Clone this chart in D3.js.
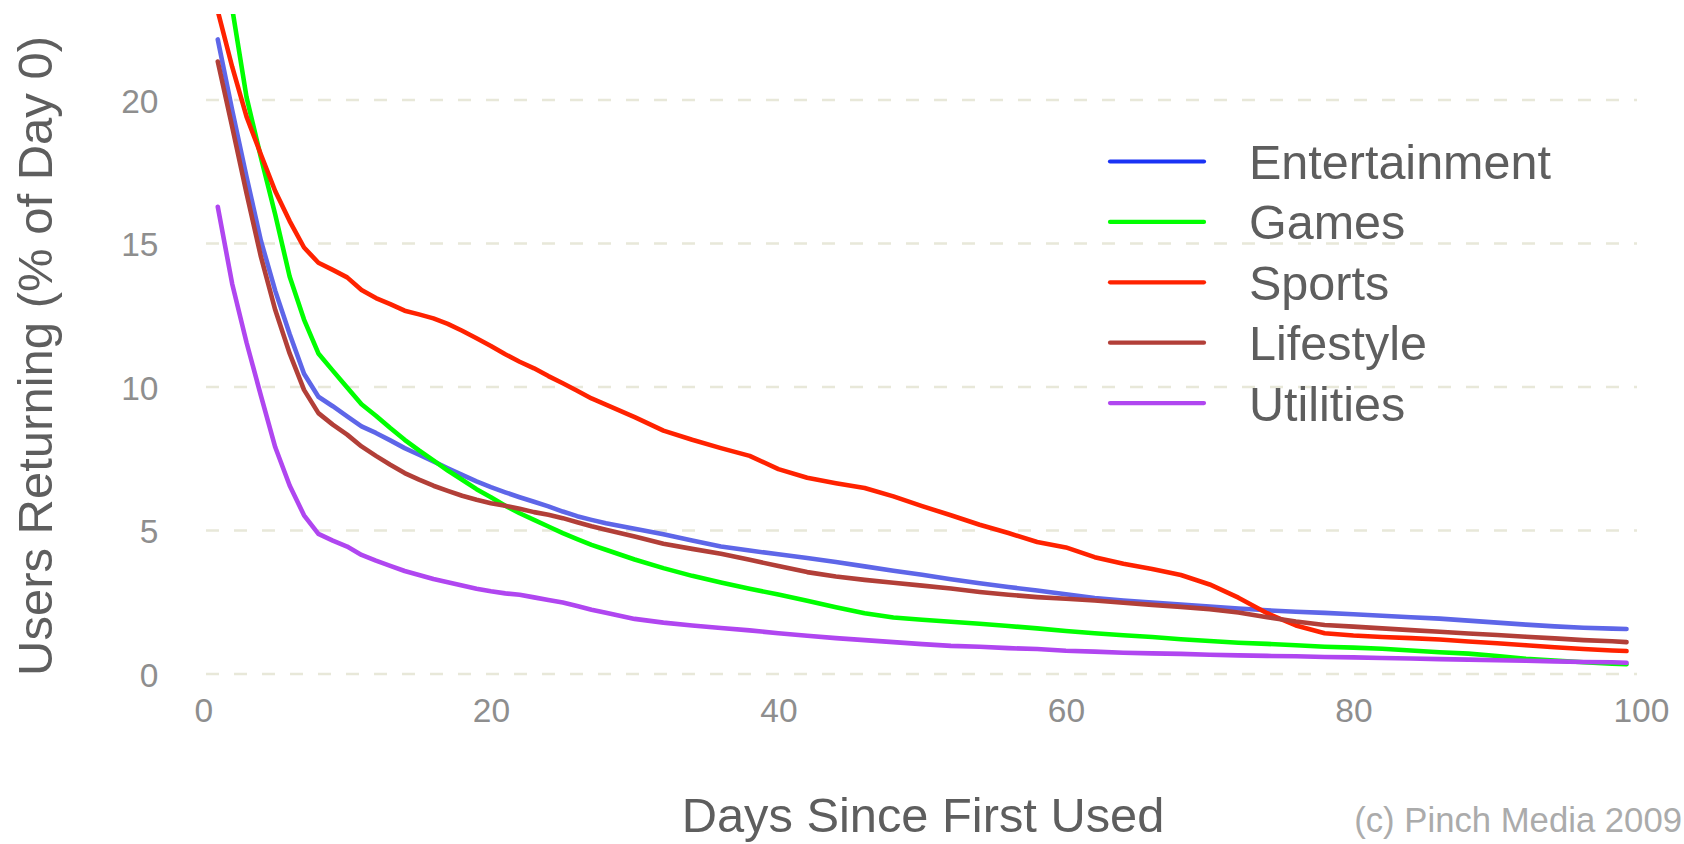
<!DOCTYPE html>
<html>
<head>
<meta charset="utf-8">
<script src="https://cdn.jsdelivr.net/npm/d3@7"></script>
<style>
  html, body { margin: 0; padding: 0; background: #ffffff; }
  svg { display: block; }
  text { font-family: "Liberation Sans", Arial, Helvetica, sans-serif; }
</style>
</head>
<body>
<svg id="chart" width="1684" height="844"></svg>
<script>
// ---- data ----
const days = [1,2,3,4,5,6,7,8,9,10,11,12,13,14,15,16,17,18,19,20,21,22,23,24,25,26,27,
  28,30,32,34,36,38,40,42,44,46,48,50,52,54,56,58,60,62,64,66,68,70,72,74,76,78,80,82,84,86,88,90,92,94,96,98,99];

const entertainment = [22.11,19.65,17.33,15.10,13.35,11.85,10.46,9.66,9.33,8.98,8.63,8.40,8.14,7.87,7.64,7.41,7.17,6.94,6.71,6.51,6.33,6.16,6.00,5.84,5.66,5.50,5.37,
  5.25,5.06,4.87,4.65,4.44,4.30,4.17,4.04,3.90,3.75,3.60,3.46,3.30,3.16,3.03,2.91,2.78,2.65,2.56,2.49,2.42,2.35,2.28,2.22,2.17,2.13,2.08,2.03,1.98,1.93,1.86,1.79,1.72,1.66,1.61,1.58,1.57];

const games = [28.0,23.2,20.1,18.0,16.0,13.85,12.35,11.17,10.57,9.98,9.40,9.00,8.57,8.16,7.79,7.44,7.09,6.77,6.44,6.16,5.86,5.60,5.37,5.14,4.91,4.70,4.50,
  4.33,3.99,3.69,3.42,3.19,2.97,2.77,2.55,2.33,2.12,1.97,1.89,1.82,1.75,1.67,1.59,1.50,1.42,1.35,1.29,1.21,1.15,1.09,1.05,1.00,0.95,0.92,0.88,0.82,0.76,0.71,0.63,0.53,0.47,0.41,0.36,0.34];

const sports = [23.1,21.16,19.42,18.1,16.82,15.78,14.86,14.33,14.08,13.82,13.38,13.10,12.89,12.66,12.53,12.39,12.20,11.96,11.70,11.43,11.14,10.88,10.65,10.38,10.13,9.87,9.60,
  9.39,8.95,8.48,8.16,7.87,7.60,7.14,6.84,6.65,6.48,6.19,5.85,5.53,5.20,4.91,4.60,4.41,4.07,3.84,3.66,3.45,3.12,2.66,2.12,1.69,1.42,1.34,1.29,1.25,1.20,1.13,1.07,1.00,0.93,0.87,0.82,0.80];

const lifestyle = [21.34,19.07,16.75,14.54,12.68,11.17,9.90,9.09,8.69,8.34,7.93,7.60,7.29,7.00,6.77,6.56,6.38,6.21,6.07,5.95,5.86,5.76,5.64,5.55,5.43,5.29,5.15,
  5.03,4.79,4.54,4.36,4.19,3.98,3.76,3.55,3.40,3.28,3.18,3.08,2.98,2.86,2.76,2.68,2.62,2.56,2.48,2.41,2.34,2.26,2.14,1.98,1.83,1.71,1.65,1.59,1.53,1.47,1.41,1.36,1.30,1.24,1.18,1.14,1.11];

const utilities = [16.28,13.60,11.55,9.70,7.90,6.57,5.53,4.88,4.65,4.44,4.15,3.95,3.77,3.59,3.45,3.31,3.20,3.08,2.97,2.88,2.81,2.76,2.67,2.58,2.49,2.37,2.24,
  2.13,1.92,1.79,1.69,1.60,1.52,1.42,1.33,1.25,1.18,1.11,1.04,0.98,0.95,0.90,0.87,0.81,0.78,0.74,0.72,0.70,0.67,0.65,0.63,0.62,0.59,0.58,0.56,0.54,0.52,0.50,0.48,0.46,0.44,0.42,0.41,0.39];

const categories = ["Entertainment","Games","Sports","Lifestyle","Utilities"];
const seriesValues = [entertainment, games, sports, lifestyle, utilities];
const xTicks = [0,20,40,60,80,100];
const yTicks = [0,5,10,15,20];

// ---- styles ----
const lineColors = ["#5e66e8","#00ff00","#ff2200","#b23f38","#b046f0"];
const keyColors  = ["#1a33f5","#00ff00","#ff2200","#b23f38","#b046f0"];

const svg = d3.select("#chart");
const plot = {left: 203.4, right: 1640.9, top: 14, bottom: 674};

const x = d3.scaleLinear().domain([0,100]).range([plot.left, plot.right]);
const y = d3.scaleLinear().domain([0,23]).range([plot.bottom, plot.bottom - 23*28.7]);

// gridlines (dashed, horizontal only)
const grid = svg.append("g").attr("class","grid");
grid.selectAll("line").data(yTicks).join("line")
  .attr("x1", x(0) + 2.6).attr("x2", x(100) - 3.9)
  .attr("y1", d => y(d)).attr("y2", d => y(d))
  .attr("stroke", "#e8e8d9").attr("stroke-width", 2.6)
  .attr("stroke-dasharray", "13,15");

// axes (labels only, no lines)
const xAxis = d3.axisBottom(x).tickValues(xTicks).tickSize(0).tickPadding(0);
const gx = svg.append("g").attr("transform", `translate(0,${plot.bottom})`).call(xAxis);
gx.select(".domain").remove();
gx.selectAll("text")
  .attr("y", 48).attr("dy", null)
  .attr("fill", "#8e8e8e").attr("font-size", 33.5)
  .attr("font-family", "Liberation Sans, Arial, sans-serif");

const yAxis = d3.axisLeft(y).tickValues(yTicks).tickSize(0).tickPadding(0);
const gy = svg.append("g").attr("transform", `translate(158.5,0)`).call(yAxis);
gy.select(".domain").remove();
gy.selectAll("text")
  .attr("x", 0).attr("dy", 12)
  .attr("fill", "#8e8e8e").attr("font-size", 33.5)
  .attr("font-family", "Liberation Sans, Arial, sans-serif");

// clip for plotting panel
svg.append("defs").append("clipPath").attr("id","panel")
  .append("rect").attr("x", plot.left - 10).attr("y", plot.top)
  .attr("width", plot.right - plot.left + 20).attr("height", plot.bottom - plot.top + 20);

const line = d3.line().x((d,i) => x(days[i])).y(d => y(d));

const lines = svg.append("g").attr("clip-path","url(#panel)");
lines.selectAll("path").data(seriesValues).join("path")
  .attr("d", d => line(d))
  .attr("fill", "none")
  .attr("stroke", (d,i) => lineColors[i])
  .attr("stroke-width", 4.6)
  .attr("stroke-linecap", "round")
  .attr("stroke-linejoin", "round");

// legend
const legend = svg.append("g").attr("class","legend");
const legY0 = 161.5, legStep = 60.4;
const item = legend.selectAll("g").data(categories).join("g")
  .attr("transform", (d,i) => `translate(0,${legY0 + i*legStep})`);
item.append("line")
  .attr("x1", 1110).attr("x2", 1204).attr("y1", 0).attr("y2", 0)
  .attr("stroke", (d,i) => keyColors[i]).attr("stroke-width", 4.2)
  .attr("stroke-linecap", "round");
item.append("text")
  .attr("x", 1249).attr("y", 17.5)
  .attr("font-size", 48.5).attr("fill", "#5e5e5e")
  .text(d => d);

// titles
svg.append("text")
  .attr("x", 923).attr("y", 832)
  .attr("text-anchor", "middle")
  .attr("font-size", 48.8).attr("fill", "#5e5e5e")
  .text("Days Since First Used");

svg.append("text")
  .attr("transform", "translate(52,356) rotate(-90)")
  .attr("text-anchor", "middle")
  .attr("font-size", 49).attr("fill", "#5e5e5e")
  .text("Users Returning (% of Day 0)");

svg.append("text")
  .attr("x", 1682).attr("y", 832)
  .attr("text-anchor", "end")
  .attr("font-size", 34.7).attr("fill", "#ababab")
  .text("(c) Pinch Media 2009");
</script>
</body>
</html>
